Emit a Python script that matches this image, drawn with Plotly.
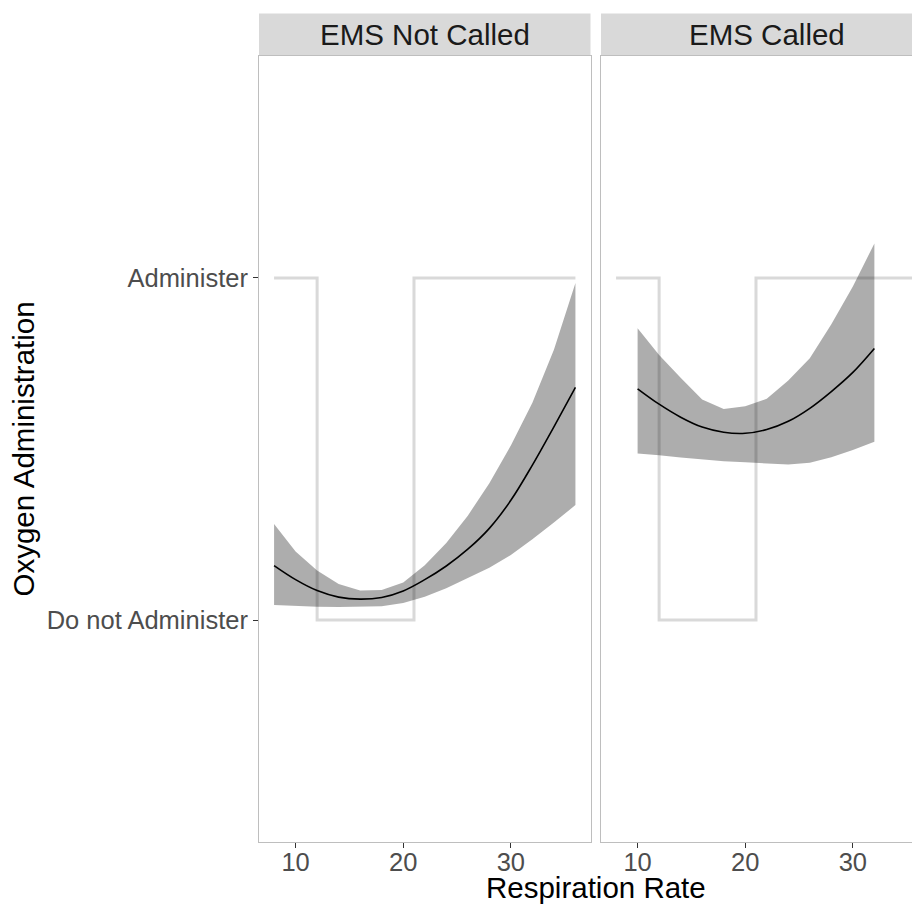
import plotly.graph_objects as go

# ---- data ----
panels = ["EMS Not Called", "EMS Called"]

# decision rule (step line), same in both panels
step_x = [8, 12, 21, 36]
step_y = [1, 0, 1, 1]

# EMS Not Called: fitted probability and band
nc_x = [8, 10, 12, 14, 16, 18, 20, 22, 24, 26, 28, 30, 32, 34, 36]
nc_mean = [0.159, 0.118, 0.086, 0.067, 0.061, 0.066, 0.085, 0.118, 0.158, 0.207, 0.268, 0.350, 0.453, 0.565, 0.680]
nc_upper = [0.281, 0.200, 0.145, 0.105, 0.086, 0.088, 0.110, 0.160, 0.225, 0.305, 0.400, 0.510, 0.635, 0.790, 0.985]
nc_lower = [0.044, 0.041, 0.039, 0.038, 0.038, 0.040, 0.050, 0.068, 0.093, 0.123, 0.153, 0.190, 0.236, 0.285, 0.336]

# EMS Called
c_x = [10, 12, 14, 16, 18, 20, 22, 24, 26, 28, 30, 32]
c_mean = [0.676, 0.631, 0.593, 0.564, 0.549, 0.546, 0.557, 0.581, 0.619, 0.668, 0.724, 0.794]
c_upper = [0.853, 0.775, 0.708, 0.645, 0.617, 0.625, 0.647, 0.700, 0.765, 0.865, 0.975, 1.101]
c_lower = [0.487, 0.482, 0.475, 0.469, 0.464, 0.461, 0.459, 0.455, 0.460, 0.476, 0.497, 0.521]

y_tickvals = [0, 1]
y_ticktext = ["Do not Administer", "Administer"]
x_tickvals = [10, 20, 30]

# ---- layout geometry (window pixels; page body has an 8px margin) ----
OFF = 8
W, H = 920 - OFF, 904 - OFF
L, R, T, B = 259 - OFF, 0, 56 - OFF, 904 - 842
PW = W - L - R
PH = H - T - B
def px_x(p):
    return (p - OFF - L) / PW
def px_y(p):
    return 1 - (p - OFF - T) / PH

left_dom = [0, px_x(590.5)]
right_dom = [px_x(601), 1]
xr_left = [6.6, 37.4]
scale = (590.5 - 259) / (xr_left[1] - xr_left[0])
xr_right = [6.6, 6.6 + (920 - 601) / scale]
yr = [-0.649, 1.649]

FONT = "Liberation Sans, Arial, sans-serif"
STEP_COL = "#d9d9d9"
RIB_COL = "rgba(0,0,0,0.32)"

fig = go.Figure()

def add_panel(xa, ya, xs, mean, up, lo):
    fig.add_trace(go.Scatter(x=step_x, y=step_y, mode="lines", line=dict(color=STEP_COL, width=3, shape="hv"),
                             xaxis=xa, yaxis=ya, hoverinfo="skip", showlegend=False))
    fig.add_trace(go.Scatter(x=xs + xs[::-1], y=up + lo[::-1], mode="lines", fill="toself",
                             fillcolor=RIB_COL, line=dict(width=0, color="rgba(0,0,0,0)"),
                             xaxis=xa, yaxis=ya, hoverinfo="skip", showlegend=False))
    fig.add_trace(go.Scatter(x=xs, y=mean, mode="lines", line=dict(color="black", width=1.6, shape="spline"),
                             xaxis=xa, yaxis=ya, showlegend=False))

add_panel("x", "y", nc_x, nc_mean, nc_upper, nc_lower)
add_panel("x2", "y2", c_x, c_mean, c_upper, c_lower)

axcommon = dict(showgrid=False, zeroline=False, ticklen=5, tickwidth=1,
                tickcolor="#333333", tickfont=dict(family=FONT, size=25.5, color="#4d4d4d"),
                showline=True, linecolor="#bebebe", linewidth=1)

fig.update_layout(
    width=W, height=H, margin=dict(l=L, r=R, t=T, b=B),
    paper_bgcolor="white", plot_bgcolor="white", showlegend=False,
    xaxis=dict(domain=left_dom, range=xr_left, tickvals=x_tickvals, mirror=True, anchor="y", ticks="outside",
               ticklabelstandoff=-8, **axcommon),
    xaxis2=dict(domain=right_dom, range=xr_right, tickvals=x_tickvals, mirror=True, anchor="y2", ticks="outside",
                ticklabelstandoff=-8, **axcommon),
    yaxis=dict(domain=[0, 1], range=yr, tickvals=y_tickvals, ticktext=y_ticktext, mirror=True, anchor="x",
               ticks="outside", **axcommon),
    yaxis2=dict(domain=[0, 1], range=yr, tickvals=y_tickvals, ticktext=["", ""], mirror=False,
                anchor="x2", ticks="", **axcommon),
)

# strips
strip_top = px_y(13.5)
for dom in [left_dom, right_dom]:
    fig.add_shape(type="rect", xref="paper", yref="paper", x0=dom[0], x1=dom[1], y0=1, y1=strip_top,
                  fillcolor="#d9d9d9", line=dict(width=0), layer="below")

centers = [(259.5 + 590.5) / 2, (601 + 932) / 2]
for c, name in zip(centers, panels):
    fig.add_annotation(text=name, xref="paper", yref="paper", x=px_x(c), y=px_y(34.5),
                       showarrow=False, font=dict(family=FONT, size=29.5, color="#1a1a1a"),
                       xanchor="center", yanchor="middle")

fig.add_annotation(text="Respiration Rate", xref="paper", yref="paper", x=px_x(595.75), y=px_y(887),
                   showarrow=False, font=dict(family=FONT, size=29.5, color="black"),
                   xanchor="center", yanchor="middle")
fig.add_annotation(text="Oxygen Administration", xref="paper", yref="paper", x=px_x(22.5), y=px_y(449),
                   showarrow=False, textangle=-90, font=dict(family=FONT, size=29.5, color="black"),
                   xanchor="center", yanchor="middle")

fig.write_html("out.html")
